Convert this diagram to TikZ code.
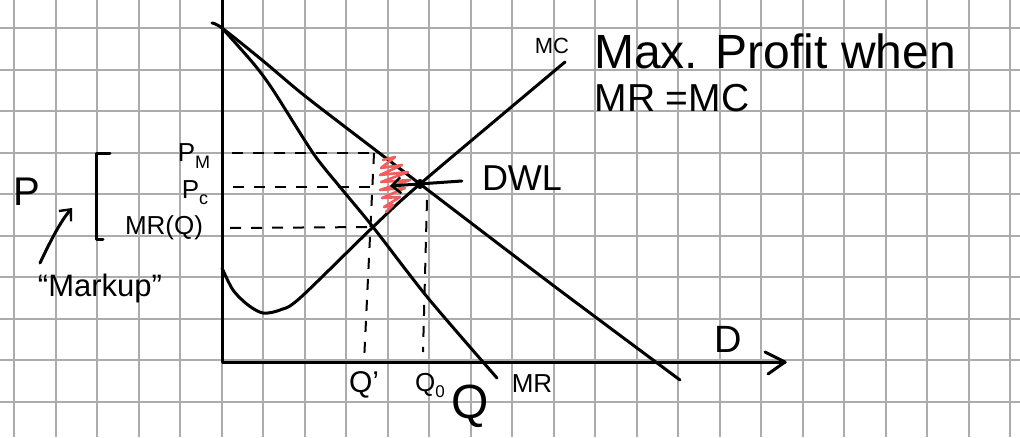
\documentclass[tikz,border=0pt]{standalone}
\usepackage{fontspec}
\newfontfamily\hand{Liberation Sans}
\usetikzlibrary{arrows.meta}
\definecolor{gridc}{RGB}{172,172,172}
\definecolor{scrib}{RGB}{240,95,95}
\begin{document}
\begin{tikzpicture}[x=1pt,y=-1pt,line cap=round,line join=round,
  gridline/.style={draw=gridc,line width=2pt,line cap=butt},
  axisline/.style={line width=3pt},
  curve/.style={line width=3pt},
  dashline/.style={line width=2pt,dash pattern=on 11pt off 10pt,line cap=butt},
  lbl/.style={inner sep=0pt,font=\hand}]
\useasboundingbox (0,0) rectangle (1020,437);
\fill[white] (0,0) rectangle (1020,437);
% grid
\foreach \i in {0,...,24} \draw[gridline] ({14+41.5*\i},0) -- ({14+41.5*\i},437);
\foreach \j in {0,...,9} \draw[gridline] (0,{28+41.5*\j}) -- (1020,{28+41.5*\j});
% axes
\coordinate (Ytop) at (222,0);
\coordinate (O) at (222,362);
\coordinate (Xend) at (785,362);
\draw[axisline] (Ytop) -- (O) -- (Xend);
\draw[axisline] ([shift={(-20,-10)}]Xend) -- (Xend) -- ([shift={(-17,12)}]Xend);
% key points
\coordinate (E) at (420,184);
\coordinate (A) at (373,227);
\coordinate (B) at (374,153);
% demand
\draw[curve] plot[smooth] coordinates {(212,23) (222,28) (262,60) (300,92) (340,123) (E) (550,283) (680,380)};
% MR
\draw[curve] plot[smooth] coordinates {(222,28) (253,63) (273,90) (313,153) (340,187) (A) (428,298) (497,378)};
% MC
\draw[curve] plot[smooth] coordinates {(222,268) (233,290) (248,305) (263,313) (280,310) (300,298) (A) (E) (565,62)};
% dashed guides
\draw[dashline] (232,153) -- (B);
\draw[dashline] (B) -- (364,362);
\draw[dashline] (233,187) -- (378,187);
\draw[dashline] (230,228) -- (A);
\draw[dashline] (427,200) -- (423,352);
% DWL scribble
\draw[scrib,line width=2.6pt] (383,160) -- (395,157) -- (381,168) -- (402,165) -- (380,175) -- (408,172) -- (381,182) -- (410,180) -- (380,190) -- (405,188) -- (382,198) -- (400,197) -- (384,207) -- (393,205) -- (386,212);
% equilibrium dot
\fill (E) circle (5);
% DWL label and arrow
\node[lbl,font=\hand\fontsize{36}{36}\selectfont] (dwl) at (522,178) {DWL};
\coordinate (dwlTip) at (390,186);
\draw[curve,-{Straight Barb[length=9pt,width=16pt,line width=2.4pt]}] (dwl.west) ++(-20,3) -- (dwlTip);
% labels
\node[lbl,font=\hand\fontsize{48}{48}\selectfont] (maxp) at (775,51) {Max. Profit when};
\node[lbl,font=\hand\fontsize{39}{39}\selectfont] (mrmc) at (672,98) {MR =MC};
\node[lbl,font=\hand\fontsize{22}{22}\selectfont] (mclbl) at (552,46) {MC};
\node[lbl,font=\hand\fontsize{38}{38}\selectfont] (dlbl) at (728,339) {D};
\node[lbl,font=\hand\fontsize{26}{26}\selectfont] (mrlbl) at (532,384) {MR};
\node[lbl,font=\hand\fontsize{30}{30}\selectfont] (q1) at (364,385) {Q’};
\node[lbl,font=\hand\fontsize{26}{26}\selectfont] (q0) at (430,385) {Q\raisebox{-6pt}{\fontsize{17}{17}\selectfont 0}};
\node[lbl,font=\hand\fontsize{48}{48}\selectfont] (qbig) at (470,406) {Q};
\node[lbl,font=\hand\fontsize{40}{40}\selectfont] (pleft) at (27,192) {P};
\node[lbl,font=\hand\fontsize{26}{26}\selectfont] (pm) at (194,156) {P\raisebox{-7pt}{\fontsize{18}{18}\selectfont M}};
\node[lbl,font=\hand\fontsize{26}{26}\selectfont] (pc) at (195,193) {P\raisebox{-6pt}{\fontsize{18}{18}\selectfont c}};
\node[lbl,font=\hand\fontsize{26}{26}\selectfont] (mrq) at (164,228) {MR(Q)};
\node[lbl,font=\hand\fontsize{31}{31}\selectfont] (markup) at (100,288) {“Markup”};
% bracket
\coordinate (brT) at (96,153);
\coordinate (brB) at (96,239);
\draw[curve] ([xshift=14]brT) -- (brT) -- (brB) -- ([xshift=7]brB);
% markup arrow
\coordinate (mkTip) at (72,208);
\draw[curve,-{Straight Barb[length=9pt,width=16pt,line width=2.4pt]}] (40,263) .. controls (50,242) and (60,222) .. (mkTip);
\end{tikzpicture}
\end{document}
